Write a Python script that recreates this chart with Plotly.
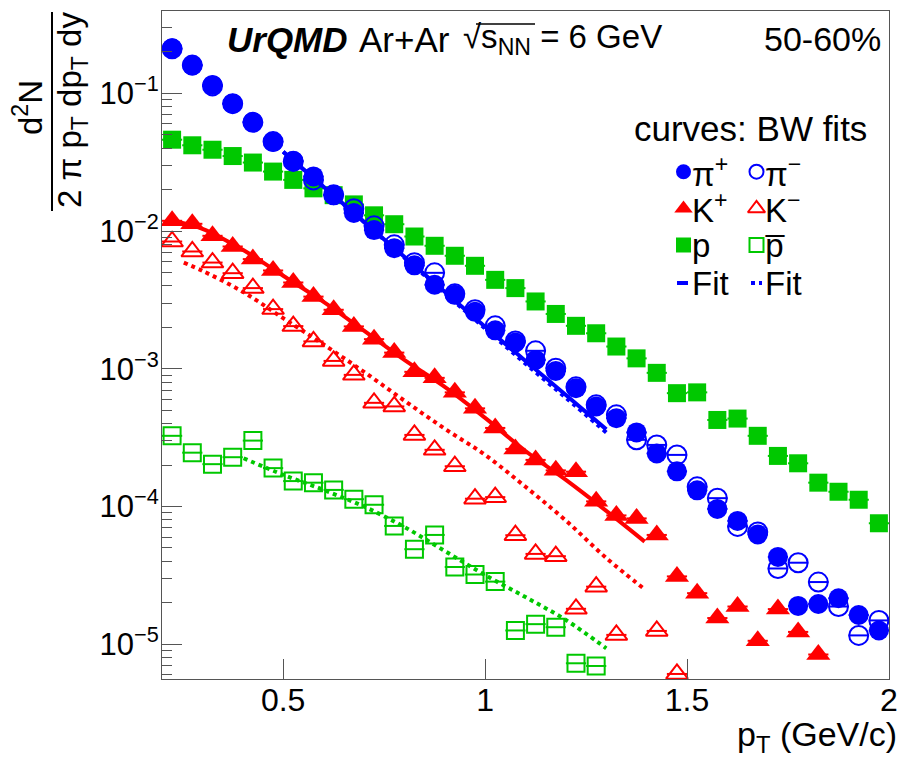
import plotly.graph_objects as go

# ---------------- data ----------------
pt = [0.225, 0.275, 0.325, 0.375, 0.425, 0.475, 0.525, 0.575, 0.625, 0.675,
      0.725, 0.775, 0.825, 0.875, 0.925, 0.975, 1.025, 1.075, 1.125, 1.175,
      1.225, 1.275, 1.325, 1.375, 1.425, 1.475, 1.525, 1.575, 1.625, 1.675,
      1.725, 1.775, 1.825, 1.875, 1.925, 1.975]

pi_plus = [0.212, 0.159, 0.115, 0.0839, 0.0618, 0.0444, 0.0323, 0.0249, 0.0182, 0.0135,
           0.01015, 0.00751, 0.00563, 0.00407, 0.00344, 0.00259, 0.00190, 0.00155, 0.00116, 0.000965,
           0.000723, 0.000533, 0.000438, 0.000345, 0.000243, 0.000180, 0.000131, 0.0000961, 0.0000786, 0.0000627,
           0.0000431, 0.0000190, 0.0000196, 0.0000216, 0.0000163, 0.0000126]

pi_minus = [0.210, 0.160, 0.113, 0.0840, 0.0615, 0.0446, 0.0320, 0.0235, 0.0183, 0.0145,
            0.0109, 0.00794, 0.00588, 0.00497, 0.00350, 0.00268, 0.00205, 0.00159, 0.00135, 0.00101,
            0.000739, 0.000547, 0.000463, 0.000305, 0.000280, 0.000237, 0.000139, 0.000115, 0.0000717, 0.0000654,
            0.0000355, 0.0000391, 0.0000283, 0.0000188, 0.0000116, 0.0000149]

k_plus = [0.01186, 0.01128, 0.00923, 0.00772, 0.00625, 0.00517, 0.00423, 0.00334, 0.00268, 0.00203,
          0.00164, 0.00131, 0.000950, 0.000859, 0.000674, 0.000516, 0.000372, 0.000262, 0.000218, 0.000183,
          0.000179, 0.000109, 0.0000862, 0.0000820, 0.0000622, 0.0000311, 0.0000235, 0.0000155, 0.0000188, 0.0000106,
          0.0000180, 0.0000123, 0.00000843, None, None, None]

k_minus = [0.00839, 0.00710, 0.00590, 0.00494, 0.00385, 0.00271, 0.00204, 0.00158, 0.00114, 0.000903,
           0.000566, 0.000533, 0.000331, 0.000258, 0.000196, 0.000114, 0.000117, 0.0000619, 0.0000453, 0.0000436,
           0.0000181, 0.0000262, 0.0000117, None, 0.0000125, 0.00000609, None, None, None, None,
           None, None, None, None, None, None]

proton = [0.0460, 0.0419, 0.0389, 0.0350, 0.0314, 0.0270, 0.0235, 0.0204, 0.0182, 0.0156,
          0.0130, 0.0112, 0.00912, 0.00781, 0.00661, 0.00559, 0.00442, 0.00385, 0.00308, 0.00250,
          0.00205, 0.00181, 0.00145, 0.00119, 0.000934, 0.000665, 0.000674, 0.000425, 0.000435, 0.000326,
          0.000233, 0.000206, 0.000149, 0.000128, 0.000112, 0.0000756]

antiproton = [0.000326, 0.000246, 0.000203, 0.000228, 0.000301, 0.000190, 0.000153, 0.000149, 0.000132, 0.000113,
              0.000103, 0.0000723, 0.0000490, 0.0000622, 0.0000364, 0.0000321, 0.0000285, 0.0000126, 0.0000140, 0.0000133,
              0.00000728, 0.00000696, None, None, None, None, None, None, None, None,
              None, None, None, None, None, None]

# Blast-wave fit curves
fit_pi_x = [0.5, 0.6, 0.7, 0.8, 0.9, 1.0, 1.1, 1.2, 1.3]
fit_pi_plus = [0.0376, 0.02094, 0.01166, 0.00650, 0.00362, 0.00202, 0.00114, 0.000646, 0.000363]
fit_pi_minus = [0.0376, 0.0209, 0.0116, 0.00640, 0.00355, 0.00196, 0.00109, 0.000615, 0.000345]

fit_kp_x = [0.225, 0.3, 0.4, 0.5, 0.6, 0.7, 0.8, 0.9, 1.0, 1.1, 1.2, 1.3, 1.395]
fit_kp = [0.01186, 0.01038, 0.00730, 0.00473, 0.00306, 0.00189, 0.00116, 0.000739, 0.000440, 0.000253,
          0.000156, 0.0000929, 0.0000556]

fit_km_x = [0.254, 0.3, 0.4, 0.5, 0.6, 0.7, 0.8, 0.9, 1.0, 1.1, 1.2, 1.3, 1.395]
fit_km = [0.00590, 0.00514, 0.00362, 0.00233, 0.00150, 0.000950, 0.000587, 0.000367, 0.000237, 0.000139,
          0.0000791, 0.0000423, 0.0000251]

fit_pbar_x = [0.402, 0.5, 0.6, 0.7, 0.8, 0.9, 1.0, 1.1, 1.2, 1.3]
fit_pbar = [0.000224, 0.000170, 0.000132, 0.000100, 0.0000711, 0.0000476, 0.0000318, 0.0000220, 0.0000150, 0.00000935]

bin_half_width = 0.025

x_tickvals = [0.5, 1, 1.5, 2]
x_ticktext = ["0.5", "1", "1.5", "2"]
y_tickvals = [1e-5, 1e-4, 1e-3, 1e-2, 1e-1]
y_ticktext = ["10<sup>\u22125</sup>", "10<sup>\u22124</sup>", "10<sup>\u22123</sup>",
              "10<sup>\u22122</sup>", "10<sup>\u22121</sup>"]

# ---------------- style ----------------
BLUE = "#0000ff"
RED = "#ff0000"
GREEN = "#00c800"
FONT = "Liberation Sans, Arial, sans-serif"

W, H = 899, 758
L, R, T, B = 162, 10, 11, 79


def px(xp):
    return (xp - L) / (W - L - R)


def py(yp):
    return (H - B - yp) / (H - T - B)


fig = go.Figure()


def data_trace(y, symbol, color, size, open_marker=False):
    return go.Scatter(
        x=pt, y=y, mode="markers",
        marker=dict(symbol=symbol, size=size, color=color,
                    line=dict(color=color, width=2 if open_marker else 0)),
        error_x=dict(type="constant", value=bin_half_width, width=0, thickness=2, color=color),
        showlegend=False, hoverinfo="skip")


def fit_trace(x, y, color, dash):
    return go.Scatter(x=x, y=y, mode="lines", line=dict(color=color, width=4, dash=dash, shape="spline"),
                      showlegend=False, hoverinfo="skip")


fig.add_trace(data_trace(proton, "square", GREEN, 18))
fig.add_trace(data_trace(antiproton, "square-open", GREEN, 17, True))
fig.add_trace(data_trace(k_minus, "triangle-up-open", RED, 19, True))
fig.add_trace(data_trace(k_plus, "triangle-up", RED, 21))
fig.add_trace(data_trace(pi_minus, "circle-open", BLUE, 19, True))
fig.add_trace(data_trace(pi_plus, "circle", BLUE, 20))

fig.add_trace(fit_trace(fit_pi_x, fit_pi_plus, BLUE, "solid"))
fig.add_trace(fit_trace(fit_pi_x, fit_pi_minus, BLUE, "dot"))
fig.add_trace(fit_trace(fit_kp_x, fit_kp, RED, "solid"))
fig.add_trace(fit_trace(fit_km_x, fit_km, RED, "dot"))
fig.add_trace(fit_trace(fit_pbar_x, fit_pbar, GREEN, "dot"))

# ---- legend (drawn on an overlay paper-like axis) ----
leg_rows = [171.7, 208.5, 245.0]
col1, col2 = 683.5, 756.5
leg_items = [
    (col1, leg_rows[0], "circle", BLUE, False, "\u03c0<sup>+</sup>", 15),
    (col2, leg_rows[0], "circle-open", BLUE, True, "\u03c0<sup>\u2212</sup>", 14),
    (col1, leg_rows[1], "triangle-up", RED, False, "K<sup>+</sup>", 16),
    (col2, leg_rows[1], "triangle-up-open", RED, True, "K<sup>\u2212</sup>", 15),
    (col1, leg_rows[2], "square", GREEN, False, "p", 15),
    (col2, leg_rows[2], "square-open", GREEN, True, "p\u0305", 14),
]
for (lx, ly, sym, col, op, label, msize) in leg_items:
    fig.add_trace(go.Scatter(
        x=[px(lx)], y=[py(ly)], mode="markers", xaxis="x2", yaxis="y2",
        marker=dict(symbol=sym, size=msize, color=col,
                    line=dict(color=col, width=2 if op else 0)),
        showlegend=False, hoverinfo="skip"))

annotations = []
for (lx, ly, sym, col, op, label, msize) in leg_items:
    annotations.append(dict(text=label, x=px(lx + 6), y=py(ly), xref="paper", yref="paper",
                            xanchor="left", yanchor="middle", showarrow=False,
                            font=dict(family=FONT, size=33, color="black")))

# Fit legend entries
fit_row = 283.0
fig.add_trace(go.Scatter(x=[px(677), px(688)], y=[py(fit_row), py(fit_row)], mode="lines",
                         xaxis="x2", yaxis="y2", line=dict(color=BLUE, width=4),
                         showlegend=False, hoverinfo="skip"))
fig.add_trace(go.Scatter(x=[px(751), px(762)], y=[py(fit_row), py(fit_row)], mode="lines",
                         xaxis="x2", yaxis="y2", line=dict(color=BLUE, width=4, dash="dot"),
                         showlegend=False, hoverinfo="skip"))
for lx in (col1, col2):
    annotations.append(dict(text="Fit", x=px(lx + 6), y=py(fit_row), xref="paper", yref="paper",
                            xanchor="left", yanchor="middle", showarrow=False,
                            font=dict(family=FONT, size=33, color="black")))

annotations.append(dict(text="curves: BW fits", x=px(750), y=py(128), xref="paper", yref="paper",
                        xanchor="center", yanchor="middle", showarrow=False,
                        font=dict(family=FONT, size=35, color="black")))

# Title texts
annotations.append(dict(text="<b><i>UrQMD</i></b>", x=px(225), y=py(39), xref="paper", yref="paper",
                        xanchor="left", yanchor="middle", showarrow=False,
                        font=dict(family=FONT, size=35, color="black")))
annotations.append(dict(text="Ar+Ar", x=px(357), y=py(39), xref="paper", yref="paper",
                        xanchor="left", yanchor="middle", showarrow=False,
                        font=dict(family=FONT, size=35, color="black")))
annotations.append(dict(text="\u221As<sub>NN</sub> = 6 GeV", x=px(461), y=py(39), xref="paper", yref="paper",
                        xanchor="left", yanchor="middle", showarrow=False,
                        font=dict(family=FONT, size=33, color="black")))
annotations.append(dict(text="50-60%", x=px(883), y=py(39), xref="paper", yref="paper",
                        xanchor="right", yanchor="middle", showarrow=False,
                        font=dict(family=FONT, size=34, color="black")))

# Axis titles
annotations.append(dict(text="p<sub>T</sub> (GeV/c)", x=px(899), y=py(736), xref="paper", yref="paper",
                        xanchor="right", yanchor="middle", showarrow=False,
                        font=dict(family=FONT, size=34, color="black")))
annotations.append(dict(text="d<sup>2</sup>N", x=px(28), y=py(108), xref="paper", yref="paper",
                        xanchor="center", yanchor="middle", showarrow=False, textangle=-90,
                        font=dict(family=FONT, size=33, color="black")))
annotations.append(dict(text="2 \u03c0 p<sub>T</sub> dp<sub>T</sub> dy", x=px(72), y=py(110), xref="paper",
                        yref="paper", xanchor="center", yanchor="middle", showarrow=False, textangle=-90,
                        font=dict(family=FONT, size=33, color="black")))

shapes = [
    # fraction bar of the y-axis title
    dict(type="line", xref="paper", yref="paper", x0=px(52), x1=px(52), y0=py(12), y1=py(211),
         line=dict(color="black", width=2)),
    # overline of the square root
    dict(type="line", xref="paper", yref="paper", x0=px(476), x1=px(535), y0=py(24), y1=py(24),
         line=dict(color="black", width=1.5)),
]

fig.update_layout(
    width=W, height=H,
    margin=dict(l=L, r=R, t=T, b=B),
    paper_bgcolor="white", plot_bgcolor="white",
    showlegend=False,
    annotations=annotations, shapes=shapes,
    xaxis=dict(range=[0.2, 2.0], tickvals=x_tickvals, ticktext=x_ticktext, automargin=False,
               ticks="inside", ticklen=20, tickwidth=1, tickcolor="#555555",
               showline=True, linecolor="#555555", linewidth=1, mirror=True,
               showgrid=False, zeroline=False,
               tickfont=dict(family=FONT, size=32, color="black")),
    yaxis=dict(type="log", range=[-5.252, -0.403], tickvals=y_tickvals, ticktext=y_ticktext, automargin=False,
               ticks="inside", ticklen=20, tickwidth=1, tickcolor="#555555",
               minor=dict(ticks="inside", ticklen=10, tickcolor="#555555", dtick="D1", showgrid=False),
               showline=True, linecolor="#555555", linewidth=1, mirror=True,
               showgrid=False, zeroline=False,
               tickfont=dict(family=FONT, size=31, color="black")),
    xaxis2=dict(range=[0, 1], overlaying="x", visible=False, fixedrange=True),
    yaxis2=dict(range=[0, 1], overlaying="y", visible=False, fixedrange=True),
)

try:
    fig.layout.xaxis.ticklabelstandoff = -7
    fig.layout.yaxis.ticklabelstandoff = -4
except Exception:
    fig.layout.xaxis.ticklabelstandoff = 0
    fig.layout.yaxis.ticklabelstandoff = 0

fig.write_html("out.html", config={"displayModeBar": False},
               post_script="document.body.style.margin='0';")
